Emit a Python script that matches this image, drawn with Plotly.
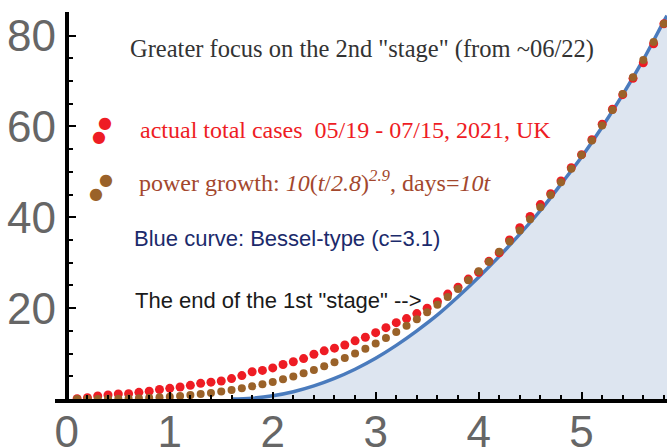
import plotly.graph_objects as go

# t in units of 10 days (05/19 .. 07/15, 2021)
t_days = [round(0.1 * i, 1) for i in range(1, 59)]

# actual total cases
actual_cases = [
    0.07, 0.3, 0.66, 0.88, 1.1, 1.17, 1.47, 1.7, 2.1, 2.35,
    2.65, 3.0, 3.45, 3.7, 3.97, 4.5, 5.15, 6.0, 6.3, 6.85,
    7.6, 8.2, 8.9, 9.85, 10.6, 11.2, 11.9, 12.8, 13.6, 14.6,
    15.7, 16.8, 17.7, 18.8, 20.0, 21.4, 23.1, 24.6, 26.4, 27.9,
    30.3, 32.2, 35.0, 37.7, 40.2, 42.8, 45.2, 48.0, 50.9, 53.8,
    57.1, 60.5, 63.8, 67.0, 70.6, 74.0, 78.2, 82.6,
]

# power growth 10(t/2.8)^2.9
power_growth = [
    0.0006, 0.0047, 0.015, 0.035, 0.068, 0.115, 0.179, 0.264, 0.372, 0.505,
    0.666, 0.857, 1.08, 1.34, 1.64, 1.97, 2.35, 2.78, 3.25, 3.77,
    4.34, 4.97, 5.65, 6.40, 7.20, 8.07, 9.00, 10.0, 11.07, 12.22,
    13.43, 14.73, 16.10, 17.56, 19.10, 20.73, 22.44, 24.24, 26.14, 28.13,
    30.22, 32.41, 34.70, 37.09, 39.59, 42.19, 44.91, 47.74, 50.68, 53.73,
    56.91, 60.21, 63.63, 67.17, 70.84, 74.64, 78.57, 82.64,
]

# Bessel-type curve (c=3.1)
bessel_t = [1.6, 1.8, 2.0, 2.2, 2.4, 2.6, 2.8, 3.0, 3.2, 3.4, 3.6, 3.8,
            4.0, 4.2, 4.4, 4.6, 4.8, 5.0, 5.2, 5.4, 5.6, 5.8, 5.83]
bessel_v = [0.0, 0.17, 0.71, 1.61, 2.89, 4.54, 6.56, 8.97, 11.8, 15.0, 18.5, 22.5,
            26.8, 31.4, 36.3, 41.5, 47.3, 53.3, 59.9, 67.0, 74.7, 83.2, 84.4]

x_ticks = [0, 1, 2, 3, 4, 5]
y_ticks = [20, 40, 60, 80]

RED = '#ee1c24'
BROWN = '#9a6229'

fig = go.Figure()

fig.add_trace(go.Scatter(
    x=bessel_t, y=bessel_v, mode='lines', line=dict(color='#4a7bbd', width=3.5, shape='spline'),
    fill='tozeroy', fillcolor='#dde5f0', showlegend=False))

fig.add_trace(go.Scatter(
    x=t_days, y=actual_cases, mode='markers',
    marker=dict(color=RED, size=9), showlegend=False))

fig.add_trace(go.Scatter(
    x=t_days, y=power_growth, mode='markers',
    marker=dict(color=BROWN, size=8), showlegend=False))

x_min, x_max = -0.115, 5.83
y_min, y_max = 0, 85.2

fig.update_xaxes(
    range=[x_min, x_max], tickvals=x_ticks, showline=True, linewidth=4, linecolor='black',
    ticks='inside', ticklen=7, tickwidth=2, tickcolor='black', showgrid=False, zeroline=False,
    automargin=False, ticklabelstandoff=-9,
    minor=dict(tickmode='linear', tick0=0, dtick=0.2, ticks='inside', ticklen=4,
               tickwidth=2, tickcolor='black', showgrid=False),
    tickfont=dict(family='Liberation Sans', size=44, color='#666666'))

fig.update_yaxes(
    range=[y_min, y_max], tickvals=y_ticks, showline=True, linewidth=4, linecolor='black',
    anchor='free', position=-x_min / (x_max - x_min), automargin=False,
    ticks='inside', ticklen=7, tickwidth=2, tickcolor='black', showgrid=False, zeroline=False,
    minor=dict(tickmode='linear', tick0=0, dtick=5, ticks='inside', ticklen=4,
               tickwidth=2, tickcolor='black', showgrid=False),
    ticklabelstandoff=0,
    tickfont=dict(family='Liberation Sans', size=44, color='#666666'))


def px(x):
    return (x - 55) / 612


def py(y):
    return (399 - y) / 387


serif = 'Liberation Serif'
sans = 'Liberation Sans'
texts = [
    ('Greater focus on the 2nd "stage" (from ~06/22)', 128, 49, serif, 24.5, '#333333'),
    ('actual total cases  05/19 - 07/15, 2021, UK', 138, 130, serif, 24, RED),
    ('power growth: <i>10</i>(<i>t</i>/<i>2.8</i>)<sup><i>2.9</i></sup>, days=<i>10t</i>',
     137, 181, serif, 24, '#a3472d'),
    ('Blue curve: Bessel-type (c=3.1)', 132, 238, sans, 22, '#1b2a6b'),
    ('The end of the 1st "stage" -->', 133, 300, sans, 22, '#1a1a1a'),
]
annotations = []
for txt, x, y, fam, size, col in texts:
    annotations.append(dict(text=txt, x=px(x), y=py(y), xref='paper', yref='paper',
                            xanchor='left', yanchor='middle', showarrow=False,
                            font=dict(family=fam, size=size, color=col)))

# legend dots
for x, y, col in [(105, 122, RED), (99, 136, RED), (106, 179, BROWN), (96, 193, BROWN)]:
    annotations.append(dict(text='●', x=px(x), y=py(y), xref='paper', yref='paper',
                            xanchor='center', yanchor='middle', showarrow=False,
                            font=dict(family='DejaVu Sans', size=16, color=col)))

fig.update_layout(
    width=667, height=447, margin=dict(l=55, r=0, t=12, b=48),
    plot_bgcolor='white', paper_bgcolor='white', annotations=annotations)

# drop the browser's default body margin so the figure fills the window
fig.write_html("out.html", config={'displayModeBar': False},
               post_script="document.body.style.margin='0';document.body.style.overflow='hidden';")
